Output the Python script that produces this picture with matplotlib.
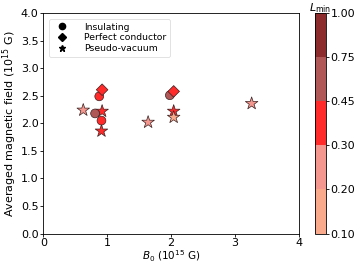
import matplotlib
matplotlib.use("Agg")
import matplotlib.pyplot as plt
import numpy as np
from matplotlib.colors import ListedColormap, BoundaryNorm
from matplotlib.lines import Line2D

# Data
ins_B0 = [0.81, 0.875, 0.91, 1.98]
ins_B = [2.18, 2.49, 2.05, 2.51]
ins_L = [0.6, 0.35, 0.35, 0.6]

pc_B0 = [0.92, 2.04]
pc_B = [2.61, 2.58]
pc_L = [0.35, 0.35]

pv_B0 = [0.625, 0.92, 0.91, 1.64, 2.04, 2.04, 3.26]
pv_B = [2.24, 2.22, 1.86, 2.02, 2.22, 2.11, 2.36]
pv_L = [0.25, 0.35, 0.35, 0.25, 0.35, 0.15, 0.25]

bounds = [0.10, 0.20, 0.30, 0.45, 0.75, 1.00]
colors = ["#F9AA8D", "#F4978F", "#FF2A2A", "#B05858", "#8C2C2C"]
xticks = [0, 1, 2, 3, 4]
yticks = [0.0, 0.5, 1.0, 1.5, 2.0, 2.5, 3.0, 3.5, 4.0]

cmap = ListedColormap(colors)
norm = BoundaryNorm(bounds, cmap.N)

fig = plt.figure(figsize=(3.58, 2.63), dpi=100)
ax = fig.add_axes([0.121, 0.112, 0.714, 0.838])
cax = fig.add_axes([0.880, 0.112, 0.030, 0.838])

kw = dict(cmap=cmap, norm=norm, edgecolors="#3a2020", linewidths=0.5, zorder=3)
ax.scatter(pv_B0, pv_B, c=pv_L, marker="*", s=90, **kw)
ax.scatter(ins_B0, ins_B, c=ins_L, marker="o", s=40, **kw)
ax.scatter(pc_B0, pc_B, c=pc_L, marker="D", s=35, **kw)

ax.set_xlim(0, 4)
ax.set_ylim(0, 4)
ax.set_xticks(xticks)
ax.set_yticks(yticks)
ax.tick_params(labelsize=8, length=2.5, width=0.6, pad=1)
for s in ax.spines.values():
    s.set_linewidth(0.6)
ax.set_xlabel(r"$B_0$ ($10^{15}$ G)", fontsize=7.5, labelpad=0)
ax.set_ylabel(r"Averaged magnetic field ($10^{15}$ G)", fontsize=8, labelpad=1)

handles = [
    Line2D([], [], marker="o", color="k", ls="none", markersize=4.5),
    Line2D([], [], marker="D", color="k", ls="none", markersize=4.5),
    Line2D([], [], marker="*", color="k", ls="none", markersize=4.5),
]
leg = ax.legend(handles, ["Insulating", "Perfect conductor", "Pseudo-vacuum"],
                loc="upper left", fontsize=6.7, handletextpad=1.3, labelspacing=0.2,
                borderpad=0.4, frameon=True, bbox_to_anchor=(0.005, 0.995))
leg.get_frame().set_linewidth(0.5)

cb = fig.colorbar(plt.cm.ScalarMappable(norm=norm, cmap=cmap), cax=cax,
                  boundaries=bounds, ticks=bounds, spacing="uniform")
cb.ax.set_yticklabels(["%.2f" % b for b in bounds])
cb.ax.tick_params(labelsize=8, length=2.5, width=0.6, pad=1)
cb.outline.set_linewidth(0.6)
fig.text(0.895, 0.997, r"$L_{\rm min}$", fontsize=8, ha="center", va="top")

fig.savefig("out.png", dpi=100)
